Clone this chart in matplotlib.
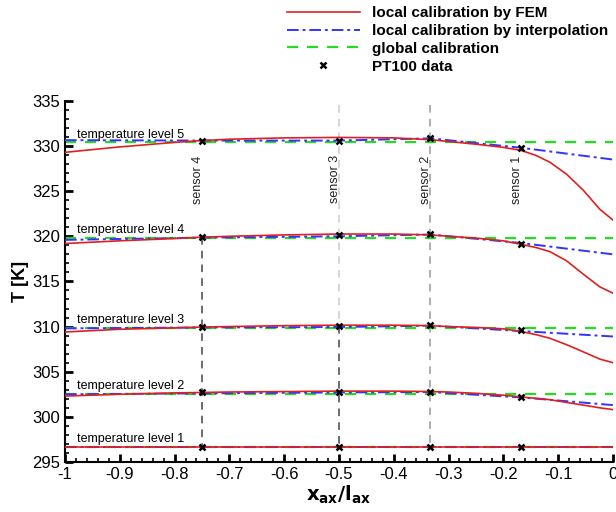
import matplotlib.pyplot as plt
from matplotlib.ticker import MultipleLocator, FuncFormatter

plt.rcParams['font.family'] = ['Liberation Sans', 'DejaVu Sans']

# x positions for the FEM curves
x_fem = [-1.0, -0.9, -0.8, -0.75, -0.7, -0.6, -0.5, -0.4, -0.333, -0.3, -0.25,
         -0.2, -0.167, -0.14, -0.115, -0.085, -0.054, -0.024, 0.0]

fem_5 = [329.3, 329.9, 330.4, 330.6, 330.75, 330.9, 330.95, 330.9, 330.7, 330.5, 330.2,
         329.85, 329.5, 328.95, 328.2, 326.9, 325.1, 323.0, 321.8]
fem_4 = [319.2, 319.5, 319.75, 319.9, 320.0, 320.15, 320.25, 320.25, 320.15, 320.0, 319.8,
         319.5, 319.1, 318.75, 318.3, 317.3, 315.8, 314.4, 313.7]
fem_3 = [309.4, 309.7, 309.85, 309.95, 310.0, 310.1, 310.15, 310.15, 310.1, 310.0, 309.9,
         309.75, 309.45, 309.1, 308.7, 308.0, 307.2, 306.4, 306.0]
fem_2 = [302.3, 302.5, 302.65, 302.7, 302.75, 302.8, 302.85, 302.85, 302.8, 302.75, 302.6,
         302.4, 302.2, 302.05, 301.9, 301.6, 301.3, 301.0, 300.8]
fem_1 = [296.65] * len(x_fem)

# interpolation between sensors
x_int = [-1.0, -0.75, -0.5, -0.333, -0.167, 0.0]
int_5 = [330.65, 330.6, 330.6, 330.85, 329.8, 328.5]
int_4 = [319.6, 319.85, 320.0, 320.2, 319.25, 318.0]
int_3 = [309.8, 309.9, 309.95, 310.1, 309.5, 308.9]
int_2 = [302.5, 302.6, 302.7, 302.75, 302.15, 301.3]
int_1 = [296.65] * len(x_int)

# global calibration levels
glob = [296.65, 302.55, 309.85, 319.8, 330.4]

# PT100 sensors
x_sensor = [-0.75, -0.5, -0.333, -0.167]
sensor_namen = ["sensor 4", "sensor 3", "sensor 2", "sensor 1"]
pt_5 = [330.6, 330.6, 330.9, 329.8]
pt_4 = [319.9, 320.1, 320.3, 319.2]
pt_3 = [309.9, 310.1, 310.2, 309.6]
pt_2 = [302.7, 302.8, 302.8, 302.2]
pt_1 = [296.7, 296.7, 296.7, 296.7]

fem = [fem_1, fem_2, fem_3, fem_4, fem_5]
interp = [int_1, int_2, int_3, int_4, int_5]
pt = [pt_1, pt_2, pt_3, pt_4, pt_5]

fig = plt.figure(figsize=(6.16, 5.12), dpi=100)
ax = fig.add_axes([0.1055, 0.0977, 0.8895, 0.7053])

# vertical sensor lines
ax.plot([-0.75, -0.75], [319.9, 296.7], color="#444444", lw=1.1, ls=(0, (5, 4)), zorder=1)
ax.plot([-0.5, -0.5], [334.5, 310.1], color="#cccccc", lw=1.1, ls=(0, (5, 4)), zorder=1)
ax.plot([-0.5, -0.5], [310.1, 296.7], color="#444444", lw=1.1, ls=(0, (5, 4)), zorder=1)
ax.plot([-0.333, -0.333], [334.5, 296.7], color="#999999", lw=1.1, ls=(0, (5, 4)), zorder=1)

for i in range(5):
    lab = i == 0
    ax.axhline(glob[i], color="#22dd22", lw=1.6, ls=(0, (5, 4)), zorder=2,
               label="global calibration" if lab else None)
    ax.plot(x_int, interp[i], color="#3333ff", lw=1.4, ls=(0, (6, 2, 1.5, 2)), zorder=3,
            label="local calibration by interpolation" if lab else None)
    ax.plot(x_fem, fem[i], color="#e02020", lw=1.2, zorder=4,
            label="local calibration by FEM" if lab else None)
    ax.plot(x_sensor, pt[i], ls="none", marker="x", color="black", ms=5, mew=1.8, zorder=5,
            label="PT100 data" if lab else None)
    ax.text(-0.978, glob[i] + 0.2, f"temperature level {i + 1}", fontsize=9,
            ha="left", va="bottom")

for xs, navn in zip(x_sensor, sensor_namen):
    ax.text(xs - 0.008, 326.3, navn, rotation=90, fontsize=9, ha="center", va="center",
            color="#222222")

ax.set_xlim(-1, 0)
ax.set_ylim(295, 335)
ax.xaxis.set_major_locator(MultipleLocator(0.1))
ax.xaxis.set_minor_locator(MultipleLocator(0.02))
ax.yaxis.set_major_locator(MultipleLocator(5))
ax.yaxis.set_minor_locator(MultipleLocator(1))
ax.xaxis.set_major_formatter(FuncFormatter(lambda v, p: "0" if abs(v) < 1e-9 else ("-1" if abs(v + 1) < 1e-9 else f"{v:.1f}")))
ax.tick_params(which="both", direction="in", labelsize=12, width=1.2)
ax.tick_params(which="major", length=6, width=2)
ax.tick_params(which="minor", length=3)
ax.spines["top"].set_visible(False)
ax.spines["right"].set_visible(False)
ax.spines["left"].set_linewidth(1.5)
ax.spines["bottom"].set_linewidth(1.5)

ax.set_ylabel("T [K]", fontsize=13, fontweight="bold", labelpad=2)
ax.set_xlabel(r"$\mathbf{x_{ax}/l_{ax}}$", fontsize=14, labelpad=1)

handles, labels = ax.get_legend_handles_labels()
order = ["local calibration by FEM", "local calibration by interpolation",
         "global calibration", "PT100 data"]
hmap = dict(zip(labels, handles))
fig.legend([hmap[o] for o in order], order, loc="upper right",
           bbox_to_anchor=(1.01, 1.015), frameon=False, prop={"weight": "bold", "size": 11},
           handlelength=4.8, labelspacing=0.25, handletextpad=0.8)

fig.savefig("out.png", dpi=100)
